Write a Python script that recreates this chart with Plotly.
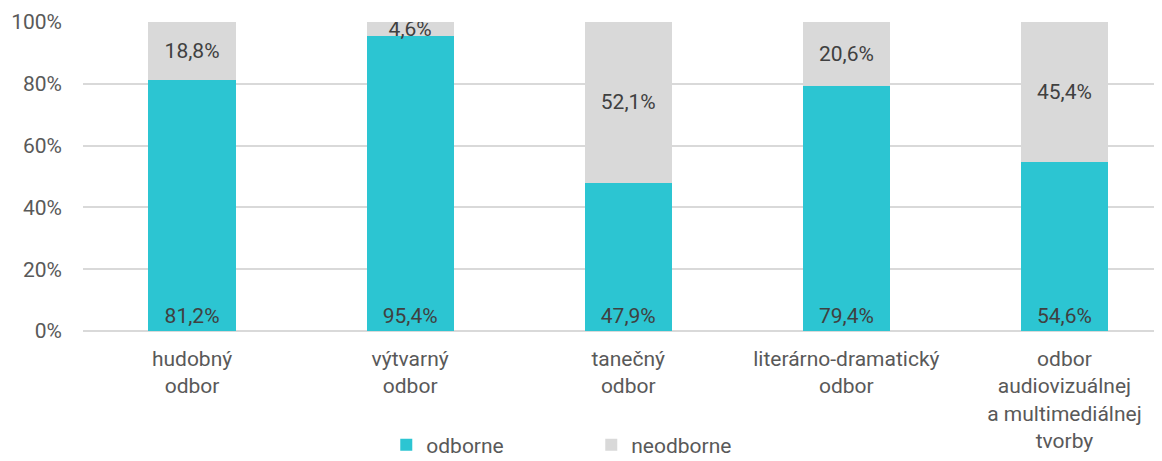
import plotly.graph_objects as go

categories = ["hudobný<br>odbor", "výtvarný<br>odbor", "tanečný<br>odbor",
              "literárno-dramatický<br>odbor",
              "odbor<br>audiovizuálnej<br>a multimediálnej<br>tvorby"]
odborne = [81.2, 95.4, 47.9, 79.4, 54.6]
neodborne = [18.8, 4.6, 52.1, 20.6, 45.4]
y_ticks = [0, 20, 40, 60, 80, 100]
y_tick_labels = ["0%", "20%", "40%", "60%", "80%", "100%"]

TEAL = "#2CC5D2"
GREY = "#D9D9D9"
FONT = "Roboto"
TXT = "#595959"
FS = 21

def fmt(v):
    return f"{v:.1f}".replace(".", ",") + "%"

fig = go.Figure()
fig.add_trace(go.Bar(
    x=list(range(len(categories))), y=odborne, name="odborne",
    marker=dict(color=TEAL, line=dict(width=0)),
    text=[fmt(v) for v in odborne], textposition="inside",
    insidetextanchor="start",
    textfont=dict(family=FONT, size=FS, color="#404040"),
    hoverinfo="skip",
))
fig.add_trace(go.Bar(
    x=list(range(len(categories))), y=neodborne, name="neodborne",
    marker=dict(color=GREY, line=dict(width=0)),
    text=[fmt(v) for v in neodborne], textposition="inside",
    insidetextanchor="middle",
    textfont=dict(family=FONT, size=FS, color="#404040"),
    hoverinfo="skip",
))

fig.update_layout(
    width=1162, height=461,
    barmode="stack", bargap=0.6,
    margin=dict(l=75, r=0, t=14, b=138),
    plot_bgcolor="white", paper_bgcolor="white",
    font=dict(family=FONT, size=FS, color=TXT),
    uniformtext=dict(minsize=FS, mode="show"),
    xaxis=dict(
        tickmode="array", tickvals=list(range(len(categories))),
        ticktext=categories, range=[-0.5, -0.5 + 1087 / 218.1],
        showgrid=False, zeroline=False, showline=False, ticks="",
        tickfont=dict(family=FONT, size=FS, color=TXT),
        ticklabelstandoff=13,
    ),
    yaxis=dict(
        range=[0, 100], tickmode="array", tickvals=y_ticks,
        ticktext=y_tick_labels, showgrid=True, gridcolor=GREY, gridwidth=1.5,
        zeroline=True, zerolinecolor=GREY, zerolinewidth=1.5,
        showline=False, ticks="", ticklabelstandoff=20,
        tickfont=dict(family=FONT, size=FS, color=TXT),
    ),
    legend=dict(
        orientation="h", x=0.279, xanchor="left", y=-0.303, yanchor="top",
        font=dict(family=FONT, size=FS, color=TXT),
        entrywidth=160, entrywidthmode="pixels",
        itemsizing="constant", tracegroupgap=0, traceorder="normal",
    ),
    showlegend=True,
)

fig.write_html("out.html")
